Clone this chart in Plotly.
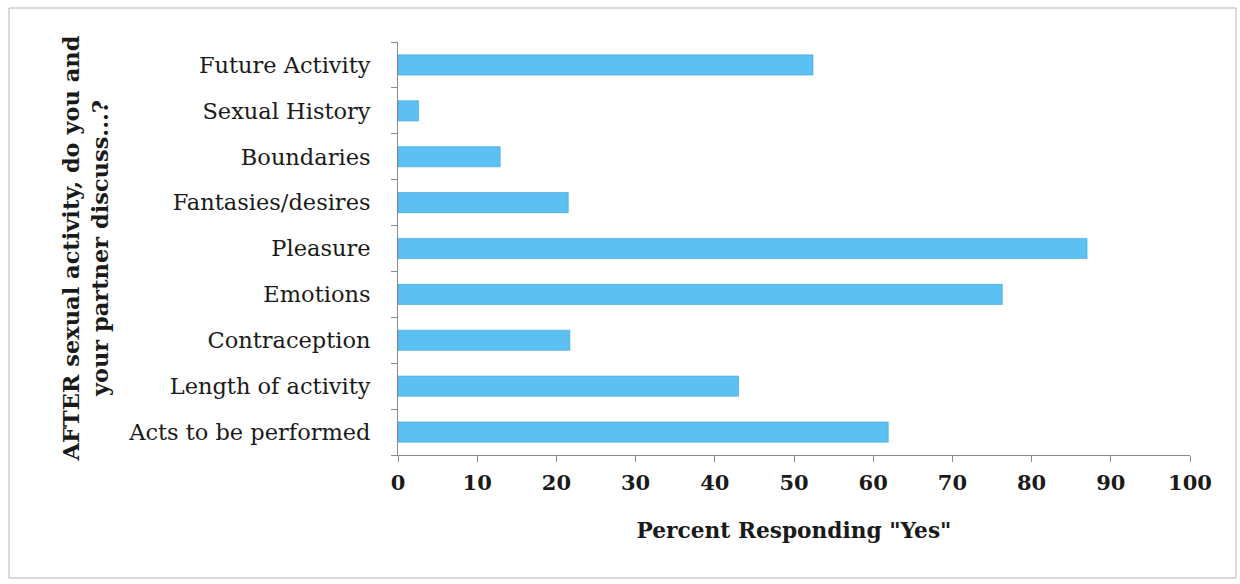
import plotly.graph_objects as go

# Topics discussed after sexual activity (bottom to top) and share answering "Yes"
topics = [
    "Acts to be performed",
    "Length of activity",
    "Contraception",
    "Emotions",
    "Pleasure",
    "Fantasies/desires",
    "Boundaries",
    "Sexual History",
    "Future Activity",
]
percent_yes = [61.9, 43.0, 21.7, 76.3, 87.0, 21.5, 12.9, 2.6, 52.4]
x_ticks = [0, 10, 20, 30, 40, 50, 60, 70, 80, 90, 100]

SERIF = "'DejaVu Serif', serif"

fig = go.Figure()
fig.add_trace(go.Bar(
    y=topics,
    x=percent_yes,
    orientation="h",
    width=0.44,
    marker=dict(color="#5cc1f2", line=dict(color="#3a9fd6", width=0.6)),
    showlegend=False,
))

fig.update_layout(
    width=1240,
    height=584,
    margin=dict(l=398, r=50, t=42, b=129),
    paper_bgcolor="white",
    plot_bgcolor="white",
    font=dict(family=SERIF, color="#1a1a1a"),
    xaxis=dict(
        range=[0, 100],
        tickvals=x_ticks,
        ticks="outside",
        ticklen=6,
        tickcolor="#8a8a8a",
        showline=True,
        linecolor="#8a8a8a",
        linewidth=1,
        showgrid=False,
        zeroline=False,
        ticklabelstandoff=3,
        tickfont=dict(size=21, family=SERIF, color="#1a1a1a", weight="bold"),
        title=dict(
            text='Percent Responding "Yes"',
            font=dict(size=21.7, family=SERIF, color="#1a1a1a", weight="bold"),
            standoff=28,
        ),
    ),
    yaxis=dict(
        type="category",
        categoryorder="array",
        categoryarray=topics,
        ticks="outside",
        tickson="boundaries",
        ticklen=6,
        tickcolor="#8a8a8a",
        showline=True,
        linecolor="#8a8a8a",
        linewidth=1,
        showgrid=False,
        tickfont=dict(size=22.5, family=SERIF, color="#1a1a1a"),
        ticklabelstandoff=22,
    ),
    annotations=[dict(
        text="AFTER sexual activity, do you and<br>your partner discuss...?",
        textangle=-90,
        xref="paper", yref="paper",
        x=(85 - 398) / 792, y=0.5,
        xanchor="center", yanchor="middle",
        showarrow=False,
        align="center",
        font=dict(size=22.5, family=SERIF, color="#1a1a1a", weight="bold"),
    )],
    shapes=[dict(
        type="rect",
        xref="paper", yref="paper",
        x0=(9 - 398) / 792, x1=(1236 - 398) / 792,
        y0=(455 - 578) / 413, y1=1 + (42 - 8) / 413,
        line=dict(color="#b5b5b5", width=1),
        fillcolor="rgba(0,0,0,0)",
    )],
)

fig.write_html("out.html")
